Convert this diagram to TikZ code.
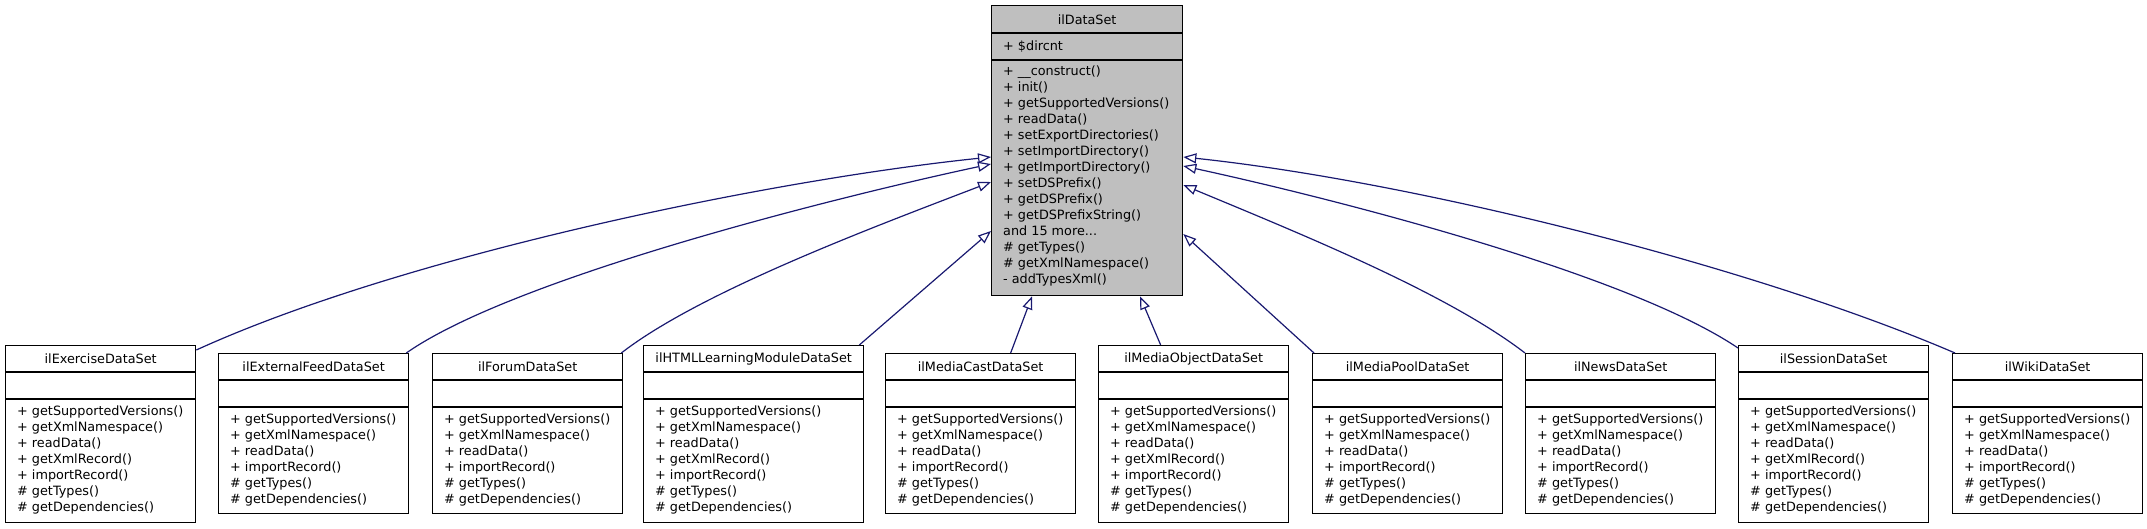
\documentclass[tikz,border=0pt]{standalone}
\usepackage{fontspec}
\setmainfont{DejaVu Sans}
\usetikzlibrary{arrows.meta, calc, positioning}

\definecolor{edgeblue}{HTML}{191970}
\definecolor{basegray}{HTML}{BFBFBF}

% one derived class: name, x, y, width, height, title, methods
\newcommand{\dsclass}[7]{%
  \node[clsbox, minimum width=#4pt, minimum height=#5pt] (#1) at (#2,#3) {};
  \node[clstitle] (#1-t) at ([yshift=-14pt]#1.north) {#6};
  \draw[clsline] ([yshift=-27pt]#1.north west) -- ([yshift=-27pt]#1.north east);
  \draw[clsline] ([yshift=-54pt]#1.north west) -- ([yshift=-54pt]#1.north east);
  \node[clslist] (#1-m) at ([xshift=12pt,yshift=-61pt]#1.north west) {#7};
}

\newcommand{\longlist}{+ getSupportedVersions()\\+ getXmlNamespace()\\+ readData()\\+ getXmlRecord()\\+ importRecord()\\\# getTypes()\\\# getDependencies()}
\newcommand{\shortlist}{+ getSupportedVersions()\\+ getXmlNamespace()\\+ readData()\\+ importRecord()\\\# getTypes()\\\# getDependencies()}

\begin{document}
\begin{tikzpicture}[x=1pt, y=-1pt,
    clsbox/.style={draw=black, line width=1.3pt, fill=white, anchor=north west, inner sep=0pt},
    clsline/.style={line width=1.3pt},
    clstitle/.style={font=\fontsize{12.8}{16}\selectfont},
    clslist/.style={anchor=north west, align=left, inner sep=0pt, font=\fontsize{12.8}{16}\selectfont},
    inherit/.style={draw=edgeblue, line width=1.2pt, -{Triangle[fill=white, length=13pt, width=10pt]}}]
  \useasboundingbox (0,0) rectangle (2147,528);

  % base class
  \node[clsbox, fill=basegray, minimum width=191pt, minimum height=290pt] (base) at (991,5) {};
  \node[clstitle] (base-t) at ([yshift=-15pt]base.north) {ilDataSet};
  \draw[clsline] ([yshift=-28pt]base.north west) -- ([yshift=-28pt]base.north east);
  \draw[clsline] ([yshift=-55pt]base.north west) -- ([yshift=-55pt]base.north east);
  \node[clslist] (base-a) at ([xshift=12pt,yshift=-36pt]base.north west) {+ \$dircnt};
  \node[clslist] (base-m) at ([xshift=12pt,yshift=-61pt]base.north west)
    {+ \_\_construct()\\+ init()\\+ getSupportedVersions()\\+ readData()\\+ setExportDirectories()\\+ setImportDirectory()\\+ getImportDirectory()\\+ setDSPrefix()\\+ getDSPrefix()\\+ getDSPrefixString()\\and 15 more...\\\# getTypes()\\\# getXmlNamespace()\\- addTypesXml()};

  % derived classes
  \dsclass{exer}{5}{345}{190}{177}{ilExerciseDataSet}{\longlist}
  \dsclass{extfeed}{218}{353}{190}{160}{ilExternalFeedDataSet}{\shortlist}
  \dsclass{forum}{432}{353}{190}{160}{ilForumDataSet}{\shortlist}
  \dsclass{html}{643}{345}{220}{177}{ilHTMLLearningModuleDataSet}{\longlist}
  \dsclass{mcast}{885}{353}{190}{160}{ilMediaCastDataSet}{\shortlist}
  \dsclass{mobj}{1098}{345}{190}{177}{ilMediaObjectDataSet}{\longlist}
  \dsclass{mpool}{1312}{353}{190}{160}{ilMediaPoolDataSet}{\shortlist}
  \dsclass{news}{1525}{353}{190}{160}{ilNewsDataSet}{\shortlist}
  \dsclass{session}{1738}{345}{190}{177}{ilSessionDataSet}{\longlist}
  \dsclass{wiki}{1952}{353}{190}{160}{ilWikiDataSet}{\shortlist}

  % inheritance
  \draw[inherit] ([yshift=-5pt]exer.north east) .. controls (400,257) and (761,181) .. ([yshift=-152pt]base.north west);
  \draw[inherit] ([xshift=-3pt]extfeed.north east) .. controls (515,277) and (841,196) .. ([yshift=-159pt]base.north west);
  \draw[inherit] ([xshift=-2pt]forum.north east) .. controls (700,292) and (871,228) .. ([yshift=-177pt]base.north west);
  \draw[inherit] ([xshift=-5pt]html.north east) -- ([yshift=-226pt]base.north west);
  \draw[inherit] ([xshift=30pt]mcast.north) -- ([xshift=41pt]base.south west);
  \draw[inherit] ([xshift=-33pt]mobj.north) -- ([xshift=149pt]base.south west);
  \draw[inherit] ([xshift=2pt]mpool.north west) -- ([yshift=-229pt]base.north east);
  \draw[inherit] (news.north west) .. controls (1447,293) and (1301,234) .. ([yshift=-180pt]base.north east);
  \draw[inherit] ([yshift=-3pt]session.north west) .. controls (1627,273) and (1331,198) .. ([yshift=-161pt]base.north east);
  \draw[inherit] ([xshift=3pt]wiki.north west) .. controls (1750,265) and (1411,181) .. ([yshift=-152pt]base.north east);
\end{tikzpicture}
\end{document}
